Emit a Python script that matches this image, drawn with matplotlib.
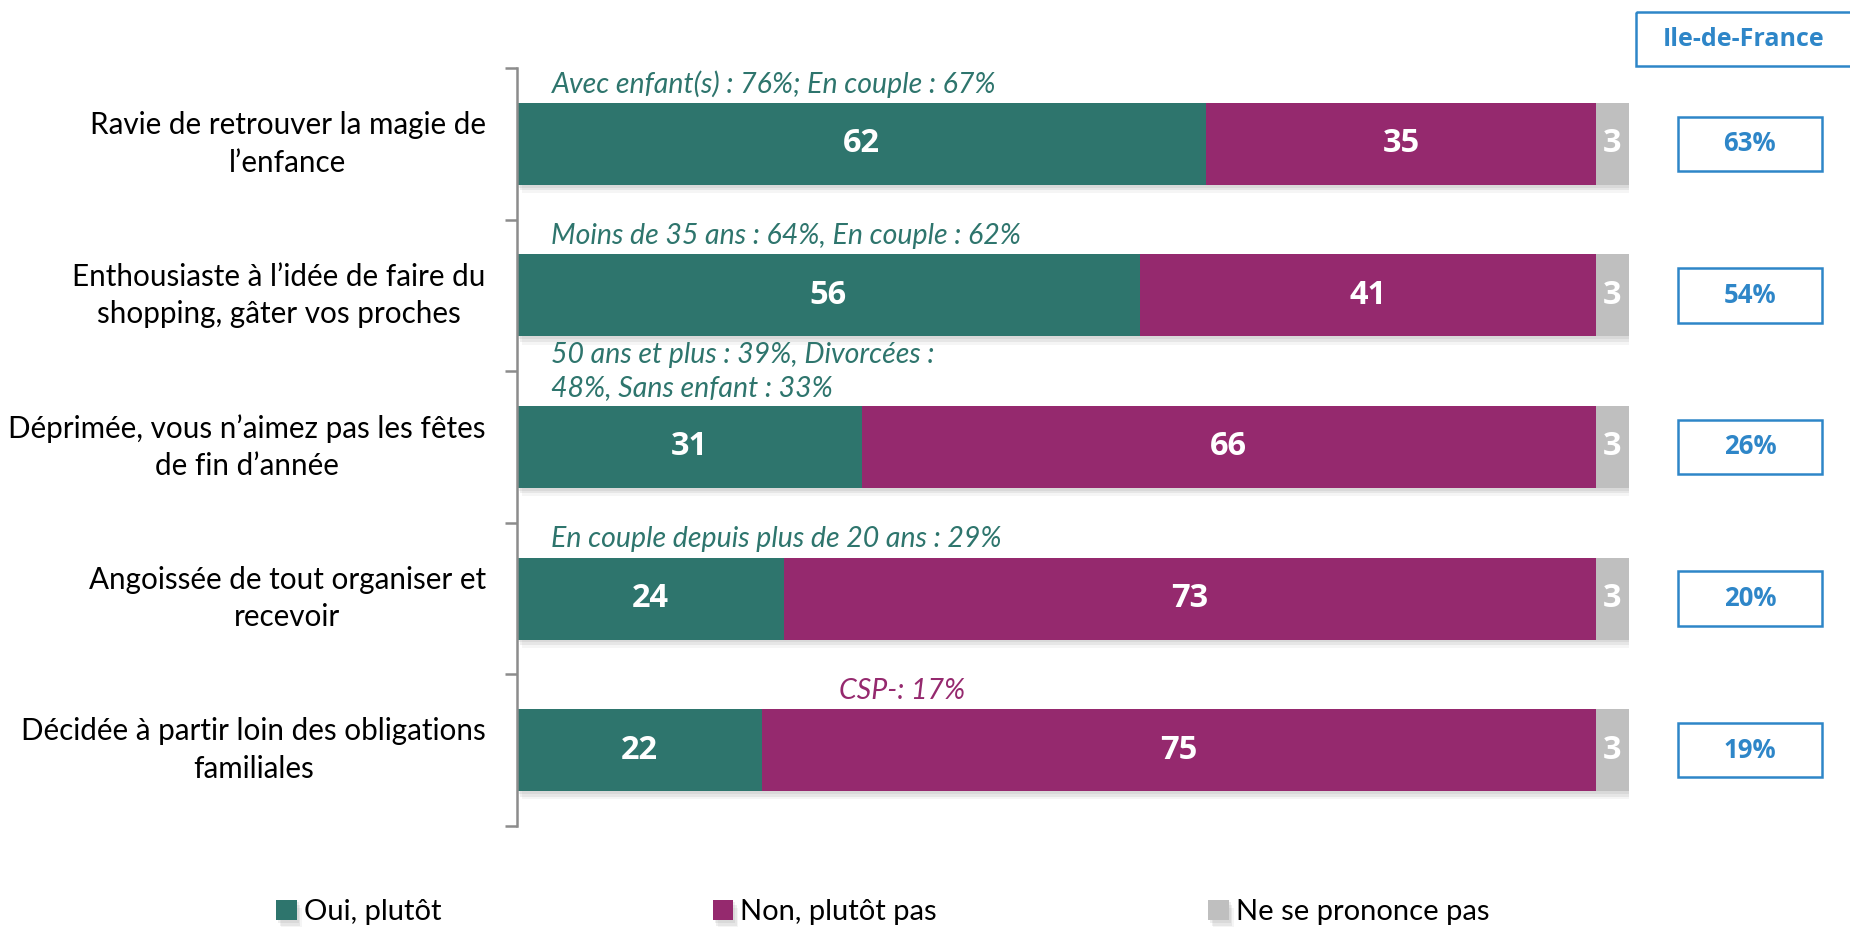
import matplotlib.pyplot as plt
import matplotlib.patheffects as pe
from matplotlib.patches import Rectangle

plt.rcParams['font.family'] = ['Lato', 'DejaVu Sans']

# donnees
items = ["Ravie de retrouver la magie de\nl\u2019enfance",
         "Enthousiaste \u00e0 l\u2019id\u00e9e de faire du\nshopping, g\u00e2ter vos proches",
         "D\u00e9prim\u00e9e, vous n\u2019aimez pas les f\u00eates\nde fin d\u2019ann\u00e9e",
         "Angoiss\u00e9e de tout organiser et\nrecevoir",
         "D\u00e9cid\u00e9e \u00e0 partir loin des obligations\nfamiliales"]
oui = [62, 56, 31, 24, 22]
non = [35, 41, 66, 73, 75]
nsp = [3, 3, 3, 3, 3]
idf = ["63%", "54%", "26%", "20%", "19%"]
notes = ["Avec enfant(s) : 76%; En couple : 67%",
         "Moins de 35 ans : 64%, En couple : 62%",
         "50 ans et plus : 39%, Divorc\u00e9es :\n48%, Sans enfant : 33%",
         "En couple depuis plus de 20 ans : 29%",
         "CSP-: 17%"]
note_x = [3.1, 3.1, 3.1, 3.1, 29.0]
series = ["Oui, plut\u00f4t", "Non, plut\u00f4t pas", "Ne se prononce pas"]

c_oui = '#2E756D'
c_non = '#95296E'
c_nsp = '#BFBFBF'
c_blue = '#2E86C8'
num_font = ['Open Sans', 'DejaVu Sans']

W, H = 1850, 927
fig = plt.figure(figsize=(W / 100, H / 100), dpi=100)
ax = fig.add_axes([517 / W, (H - 826) / H, (1629 - 517) / W, 758 / H])

y = list(range(len(items)))
bh = 0.54
shadow = [pe.SimplePatchShadow(offset=(1.5, -2), shadow_rgbFace='#808080', alpha=0.12),
          pe.SimplePatchShadow(offset=(2.5, -4), shadow_rgbFace='#808080', alpha=0.12),
          pe.SimplePatchShadow(offset=(3.5, -6), shadow_rgbFace='#808080', alpha=0.08),
          pe.Normal()]
b1 = ax.barh(y, oui, height=bh, color=c_oui, label=series[0])
b2 = ax.barh(y, non, left=oui, height=bh, color=c_non, label=series[1])
left3 = [a + b for a, b in zip(oui, non)]
b3 = ax.barh(y, nsp, left=left3, height=bh, color=c_nsp, label=series[2])
for b in list(b1) + list(b2) + list(b3):
    b.set_path_effects(shadow)

for i in y:
    ax.text(oui[i] / 2, i, str(oui[i]), ha='center', va='center', color='white',
            fontsize=23.5, fontweight='bold', family=num_font)
    ax.text(oui[i] + non[i] / 2, i, str(non[i]), ha='center', va='center', color='white',
            fontsize=23.5, fontweight='bold', family=num_font)
    ax.text(left3[i] + nsp[i] / 2, i, str(nsp[i]), ha='center', va='center', color='white',
            fontsize=23.5, fontweight='bold', family=num_font)
    col = c_non if i == 4 else c_oui
    ax.text(note_x[i], i - bh / 2 - 0.035, notes[i], ha='left', va='bottom', color=col,
            fontsize=20.5, style='italic', linespacing=1.3)
    # libelle a gauche
    ax.text(-2.8, i, items[i], ha='right', va='center', fontsize=21.3,
            multialignment='center', linespacing=1.42)
    # encadre Ile-de-France
    ax.add_patch(Rectangle((104.4, i - 0.18), 12.95, 0.36, fill=False, edgecolor=c_blue,
                           lw=1.8, clip_on=False))
    ax.text(104.4 + 12.95 / 2, i, idf[i], ha='center', va='center', color=c_blue,
            fontsize=18.5, fontweight='bold', family=num_font)

ax.add_patch(Rectangle((100.6, -0.87), 19.5, 0.355, fill=False, edgecolor=c_blue,
                       lw=1.8, clip_on=False))
ax.text(100.6 + 19.5 / 2, -0.69, "Ile-de-France", ha='center', va='center', color=c_blue,
        fontsize=18, fontweight='bold', family=num_font)

ax.set_xlim(0, 100)
ax.set_ylim(4.5, -0.5)
ax.set_yticks([k - 0.5 for k in range(len(items) + 1)])
ax.set_yticklabels([])
ax.set_xticks([])
ax.tick_params(axis='y', direction='out', length=9, width=1.8, color='#8c8c8c')
for s in ['top', 'right', 'bottom']:
    ax.spines[s].set_visible(False)
ax.spines['left'].set_color('#8c8c8c')
ax.spines['left'].set_linewidth(1.8)

fig.legend(handles=[b1, b2, b3], labels=series, loc='center left', ncol=3,
           bbox_to_anchor=(250 / W, (H - 912) / H), frameon=False,
           fontsize=21, handlelength=0.7, handleheight=0.7, handletextpad=0.25,
           columnspacing=9.3)

fig.savefig('out.png', dpi=100)
